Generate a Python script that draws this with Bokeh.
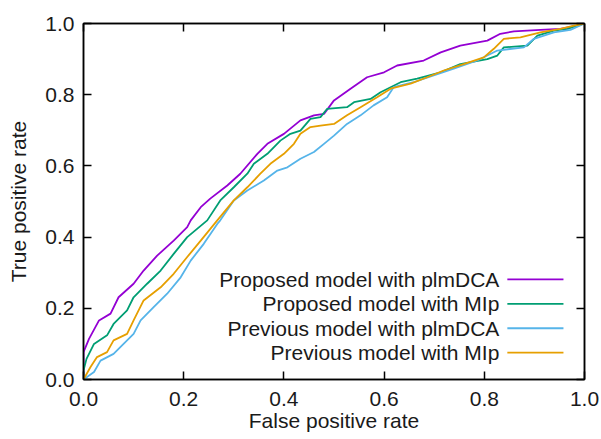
from bokeh.plotting import figure
from bokeh.models import Range1d, LinearAxis, FixedTicker, CustomJSTickFormatter
from bokeh.core.properties import value
from bokeh.embed import file_html
from bokeh.resources import INLINE

# ---- data ----
series_names = [
    "Proposed model with plmDCA",
    "Proposed model with MIp",
    "Previous model with plmDCA",
    "Previous model with MIp",
]
series_colors = ["#9400D3", "#009E73", "#56B4E9", "#E69F00"]

prop_plm_fpr = [0, 0, 0.011, 0.031, 0.054, 0.07, 0.1, 0.12, 0.147, 0.18, 0.207, 0.214, 0.234, 0.253,
                0.287, 0.313, 0.347, 0.367, 0.4, 0.433, 0.46, 0.48, 0.5, 0.533, 0.566, 0.6, 0.626,
                0.679, 0.713, 0.752, 0.806, 0.832, 0.859, 0.912, 0.952, 0.985, 1.0]
prop_plm_tpr = [0, 0.077, 0.114, 0.166, 0.185, 0.231, 0.269, 0.306, 0.348, 0.39, 0.428, 0.447, 0.484, 0.508,
                0.545, 0.578, 0.634, 0.662, 0.69, 0.728, 0.742, 0.746, 0.784, 0.817, 0.849, 0.863, 0.882,
                0.896, 0.919, 0.938, 0.952, 0.971, 0.978, 0.982, 0.985, 0.994, 1.0]

prop_mip_fpr = [0, 0, 0.006, 0.021, 0.047, 0.06, 0.087, 0.1, 0.127, 0.154, 0.18, 0.207, 0.247, 0.273,
                0.3, 0.327, 0.34, 0.367, 0.393, 0.413, 0.433, 0.453, 0.473, 0.486, 0.526, 0.54, 0.573,
                0.593, 0.633, 0.666, 0.713, 0.752, 0.806, 0.826, 0.839, 0.886, 0.906, 0.939, 0.966, 1.0]
prop_mip_tpr = [0, 0.025, 0.058, 0.1, 0.124, 0.156, 0.194, 0.231, 0.269, 0.306, 0.353, 0.4, 0.447, 0.503,
                0.54, 0.578, 0.606, 0.634, 0.671, 0.69, 0.699, 0.732, 0.737, 0.76, 0.765, 0.779, 0.788,
                0.807, 0.835, 0.845, 0.863, 0.886, 0.9, 0.91, 0.933, 0.938, 0.966, 0.98, 0.985, 1.0]

prev_plm_fpr = [0, 0.021, 0.034, 0.06, 0.08, 0.1, 0.114, 0.14, 0.167, 0.194, 0.214, 0.24, 0.267, 0.273,
                0.3, 0.327, 0.36, 0.387, 0.407, 0.433, 0.46, 0.48, 0.5, 0.526, 0.553, 0.579, 0.606,
                0.619, 0.659, 0.699, 0.739, 0.786, 0.826, 0.879, 0.899, 0.939, 0.972, 1.0]
prev_plm_tpr = [0, 0.021, 0.053, 0.072, 0.1, 0.128, 0.166, 0.203, 0.241, 0.287, 0.334, 0.381, 0.437, 0.447,
                0.503, 0.531, 0.559, 0.587, 0.596, 0.62, 0.639, 0.662, 0.685, 0.718, 0.742, 0.77, 0.793,
                0.821, 0.835, 0.854, 0.873, 0.896, 0.924, 0.933, 0.957, 0.975, 0.982, 1.0]

prev_mip_fpr = [0, 0.014, 0.027, 0.047, 0.06, 0.087, 0.1, 0.12, 0.154, 0.18, 0.207, 0.234, 0.267, 0.3,
                0.327, 0.353, 0.373, 0.4, 0.42, 0.433, 0.453, 0.473, 0.5, 0.526, 0.553, 0.586, 0.613,
                0.653, 0.686, 0.719, 0.759, 0.799, 0.819, 0.839, 0.872, 0.912, 0.952, 0.979, 1.0]
prev_mip_tpr = [0, 0.035, 0.063, 0.077, 0.11, 0.128, 0.166, 0.222, 0.259, 0.297, 0.344, 0.39, 0.447, 0.503,
                0.54, 0.578, 0.606, 0.634, 0.662, 0.69, 0.709, 0.713, 0.718, 0.742, 0.765, 0.793, 0.817,
                0.831, 0.849, 0.868, 0.886, 0.905, 0.929, 0.957, 0.961, 0.975, 0.985, 0.994, 1.0]

tick_values = [0.0, 0.2, 0.4, 0.6, 0.8, 1.0]
tick_labels = ["0.0", "0.2", "0.4", "0.6", "0.8", "1.0"]

x_label = "False positive rate"
y_label = "True positive rate"

# ---- styling ----
FONT = "Liberation Sans"
FSIZE = "21px"
TXT = "#1a1a1a"

p = figure(width=601, height=439, output_backend="svg", toolbar_location=None,
           x_range=Range1d(0, 1), y_range=Range1d(0, 1),
           min_border_left=83, min_border_right=17, min_border_top=23, min_border_bottom=60)
p.grid.visible = False
p.outline_line_color = "black"
p.outline_line_width = 1.5
p.background_fill_color = "white"
p.border_fill_color = "white"

p.add_layout(LinearAxis(), "above")
p.add_layout(LinearAxis(), "right")

overrides = dict(zip(tick_values, tick_labels))
for ax in p.xaxis + p.yaxis:
    ax.ticker = FixedTicker(ticks=tick_values)
    ax.major_tick_in = 8
    ax.major_tick_out = 0
    ax.minor_tick_in = 0
    ax.minor_tick_out = 0
    ax.axis_line_color = "black"
    ax.axis_line_width = 1.5
    ax.major_tick_line_width = 1.5
    ax.major_tick_line_color = "black"
    ax.major_label_text_font = FONT
    ax.major_label_text_font_size = FSIZE
    ax.major_label_text_color = TXT
    ax.axis_label_text_font = FONT
    ax.axis_label_text_font_size = FSIZE
    ax.axis_label_text_color = TXT
    ax.axis_label_text_font_style = "normal"

xb = p.below[0]
xb.major_label_overrides = overrides
xb.major_label_standoff = 12
xb.axis_label = x_label
xb.axis_label_standoff = 0

yl = p.left[0]
yl.major_label_overrides = overrides
yl.major_label_standoff = 9
yl.axis_label = y_label
yl.axis_label_standoff = 12

for ax in (p.above[0], p.right[0]):
    ax.formatter = CustomJSTickFormatter(code="return '';")
    ax.major_label_text_font_size = "0px"
    ax.major_label_standoff = 0

for fx, ty, c in zip([prop_plm_fpr, prop_mip_fpr, prev_plm_fpr, prev_mip_fpr],
                     [prop_plm_tpr, prop_mip_tpr, prev_plm_tpr, prev_mip_tpr],
                     series_colors):
    p.line(fx, ty, line_color=c, line_width=1.8)

# legend drawn manually (gnuplot style: text right-aligned, sample on the right)
leg_text_x = 0.83
leg_x0, leg_x1 = 0.846, 0.958
leg_top, leg_step = 0.281, 0.0685
leg_y = [leg_top - i * leg_step for i in range(len(series_names))]
p.text(x=[leg_text_x] * len(series_names), y=leg_y, text=series_names,
       text_align="right", text_baseline="middle", text_font=value(FONT),
       text_font_size=FSIZE, text_color=TXT)
p.segment(x0=[leg_x0] * len(series_names), y0=leg_y, x1=[leg_x1] * len(series_names), y1=leg_y,
          line_color=series_colors, line_width=1.8)

open("out.html", "w").write(file_html(p, INLINE))
